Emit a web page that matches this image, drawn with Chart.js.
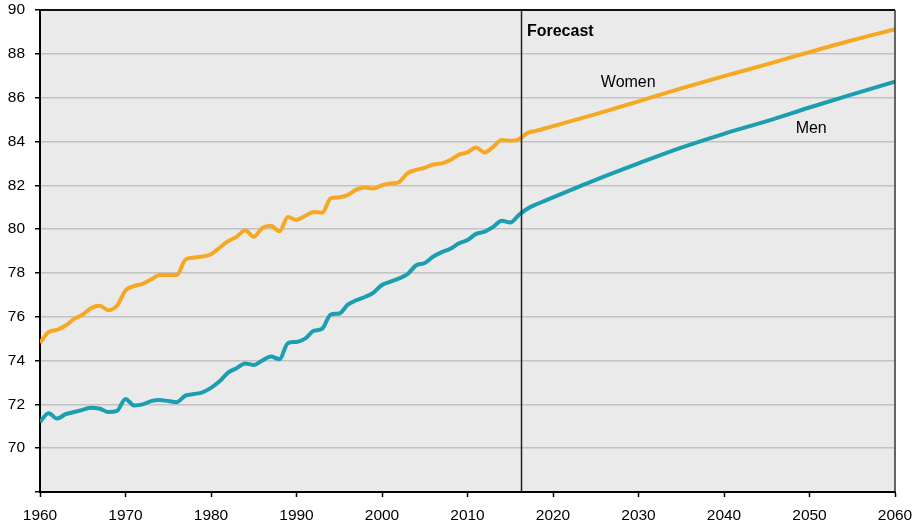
<!DOCTYPE html>
<html>
<head>
<meta charset="utf-8">
<script src="https://cdn.jsdelivr.net/npm/chart.js@4.4.1/dist/chart.umd.min.js"></script>
<style>
  html, body { margin: 0; padding: 0; background: #ffffff; }
  #wrap { width: 917px; height: 528px; }
</style>
</head>
<body>
<div id="wrap"><canvas id="c" width="917" height="528"></canvas></div>
<script>
// ---- Data ----
const years = [1960,1961,1962,1963,1964,1965,1966,1967,1968,1969,
               1970,1971,1972,1973,1974,1975,1976,1977,1978,1979,
               1980,1981,1982,1983,1984,1985,1986,1987,1988,1989,
               1990,1991,1992,1993,1994,1995,1996,1997,1998,1999,
               2000,2001,2002,2003,2004,2005,2006,2007,2008,2009,
               2010,2011,2012,2013,2014,2015,2016];
const women = [74.8,75.3,75.4,75.6,75.9,76.1,76.4,76.5,76.3,76.5,
               77.2,77.4,77.5,77.7,77.9,77.9,77.9,78.6,78.7,78.75,
               78.85,79.15,79.45,79.65,79.95,79.65,80.05,80.15,79.9,80.55,
               80.42,80.6,80.78,80.75,81.4,81.45,81.55,81.8,81.9,81.85,
               82.0,82.08,82.15,82.55,82.7,82.8,82.95,83.0,83.15,83.4,
               83.5,83.72,83.5,83.75,84.07,84.03,84.1];
const men   = [71.2,71.6,71.35,71.55,71.65,71.75,71.85,71.8,71.65,71.7,
               72.25,71.95,72.0,72.15,72.2,72.15,72.1,72.4,72.47,72.55,
               72.75,73.05,73.45,73.65,73.87,73.8,74.0,74.18,74.06,74.8,
               74.85,75.0,75.35,75.45,76.1,76.15,76.55,76.75,76.9,77.1,
               77.45,77.6,77.75,77.95,78.35,78.45,78.75,78.95,79.1,79.35,
               79.5,79.78,79.88,80.1,80.38,80.3,80.64];
const forecastYears = [2017,2018,2020,2025,2030,2035,2040,2045,2050,2055,2060];
const womenForecast = [84.38,84.48,84.7,85.25,85.83,86.42,86.98,87.52,88.08,88.62,89.12];
const menForecast   = [80.93,81.12,81.45,82.25,83.0,83.72,84.35,84.93,85.55,86.15,86.73];
const xTicks = [1960,1970,1980,1990,2000,2010,2020,2030,2040,2050,2060];
const yTicks = [70,72,74,76,78,80,82,84,86,88,90];
const forecastStart = 2016.2;
const seriesNames = ['Women','Men'];
const forecastLabel = 'Forecast';

const FONT = '"Liberation Sans", Arial, sans-serif';

function toPoints(xs, ys) { return xs.map((x, i) => ({ x: x, y: ys[i] })); }

const womenData = toPoints(years, women).concat(toPoints(forecastYears, womenForecast));
const menData = toPoints(years, men).concat(toPoints(forecastYears, menForecast));

const framePlugin = {
  id: 'frame',
  beforeDraw(chart) {
    const { ctx, chartArea: a } = chart;
    ctx.save();
    ctx.fillStyle = '#EAEAEA';
    ctx.fillRect(a.left, a.top, a.right - a.left, a.bottom - a.top);
    ctx.restore();
  },
  afterDatasetsDraw(chart) {
    const { ctx, chartArea: a, scales } = chart;
    const xs = scales.x, ys = scales.y;
    ctx.save();
    // forecast divider
    const fx = Math.round(xs.getPixelForValue(forecastStart)) + 0.5;
    ctx.strokeStyle = '#222';
    ctx.lineWidth = 1.5;
    ctx.beginPath();
    ctx.moveTo(fx, a.top);
    ctx.lineTo(fx, a.bottom);
    ctx.stroke();
    // top and right frame
    ctx.strokeStyle = '#111';
    ctx.lineWidth = 2;
    ctx.beginPath();
    ctx.moveTo(a.left, a.top);
    ctx.lineTo(a.right, a.top);
    ctx.stroke();
    ctx.lineWidth = 1.5;
    ctx.strokeStyle = '#333';
    ctx.beginPath();
    ctx.moveTo(a.right, a.top);
    ctx.lineTo(a.right, a.bottom);
    ctx.stroke();
    // text labels
    ctx.fillStyle = '#000';
    ctx.textBaseline = 'middle';
    ctx.font = 'bold 16px ' + FONT;
    ctx.textAlign = 'left';
    ctx.fillText(forecastLabel, xs.getPixelForValue(2016.95), ys.getPixelForValue(89.0));
    ctx.font = '16px ' + FONT;
    ctx.textAlign = 'center';
    ctx.fillText(seriesNames[0], xs.getPixelForValue(2028.8), ys.getPixelForValue(86.7));
    ctx.fillText(seriesNames[1], xs.getPixelForValue(2050.2), ys.getPixelForValue(84.6));
    ctx.restore();
  }
};

new Chart(document.getElementById('c'), {
  type: 'line',
  data: {
    datasets: [
      { label: seriesNames[0], data: womenData, borderColor: '#F7A823', borderWidth: 4,
        pointRadius: 0, fill: false, cubicInterpolationMode: 'monotone' },
      { label: seriesNames[1], data: menData, borderColor: '#1B9EB0', borderWidth: 4,
        pointRadius: 0, fill: false, cubicInterpolationMode: 'monotone' }
    ]
  },
  options: {
    responsive: false,
    animation: false,
    devicePixelRatio: 1,
    layout: { padding: { top: 10, right: 22, left: 0, bottom: 0 } },
    plugins: { legend: { display: false }, tooltip: { enabled: false } },
    scales: {
      x: {
        type: 'linear',
        min: 1960, max: 2060,
        afterBuildTicks(scale) { scale.ticks = xTicks.map(v => ({ value: v })); },
        afterFit(scale) { scale.height = 36; scale.paddingLeft = 0; scale.paddingRight = 0; },
        ticks: {
          callback: v => String(v),
          color: '#000',
          font: { family: FONT, size: 15.5 },
          padding: 9,
          maxRotation: 0,
          autoSkip: false
        },
        grid: { drawOnChartArea: false, tickLength: 5, tickColor: '#000', tickWidth: 1.5 },
        border: { color: '#000', width: 2 }
      },
      y: {
        min: 68, max: 90,
        afterBuildTicks(scale) { scale.ticks = [68].concat(yTicks).map(v => ({ value: v })); },
        afterFit(scale) { scale.width = 40; scale.paddingTop = 0; scale.paddingBottom = 0; },
        ticks: {
          callback: v => (v === 68 ? '' : String(v)),
          color: '#000',
          font: { family: FONT, size: 15.5 },
          padding: 10
        },
        grid: { color: '#C2C2C2', lineWidth: 1.5, tickLength: 5, tickColor: '#000', tickWidth: 1.5 },
        border: { color: '#000', width: 2 }
      }
    }
  },
  plugins: [framePlugin]
});
</script>
</body>
</html>
